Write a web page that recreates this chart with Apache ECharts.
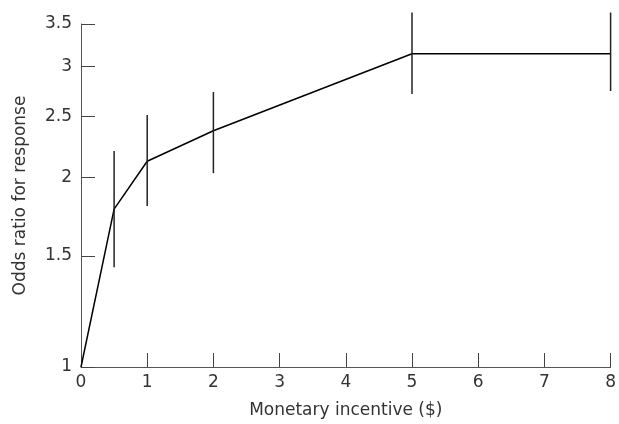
<!DOCTYPE html>
<html>
<head>
<meta charset="utf-8">
<script src="https://cdn.jsdelivr.net/npm/echarts@6/dist/echarts.min.js"></script>
<style>html,body{margin:0;padding:0;background:#fff;}#c{width:619px;height:424px;}</style>
</head>
<body>
<div id="c"></div>
<script>
const incentive = [0, 0.5, 1, 2, 5, 8];
const oddsRatio = [1, 1.78, 2.12, 2.37, 3.14, 3.14];
const lowerCI = [null, 1.44, 1.80, 2.03, 2.71, 2.74];
const upperCI = [null, 2.20, 2.51, 2.73, 3.65, 3.65];
const yTicks = [1, 1.5, 2, 2.5, 3, 3.5];
const xTicks = [0, 1, 2, 3, 4, 5, 6, 7, 8];

const font = 'DejaVu Sans';
const chart = echarts.init(document.getElementById('c'), null, {renderer: 'canvas'});
const lineData = incentive.map((x, i) => [x, oddsRatio[i]]);
const barData = incentive.map((x, i) => [x, lowerCI[i], upperCI[i]]).filter(d => d[1] != null);

chart.setOption({
  animation: false,
  backgroundColor: '#fff',
  grid: {left: 81, right: 4, top: 24, bottom: 57, containLabel: false},
  xAxis: {
    type: 'value', min: 0, max: 8, interval: 1,
    name: 'Monetary incentive ($)', nameLocation: 'middle', nameGap: 35,
    nameTextStyle: {fontFamily: font, fontSize: 17, color: '#333'},
    axisLine: {show: true, lineStyle: {color: '#555', width: 1}},
    axisTick: {show: true, inside: true, length: 14, lineStyle: {color: '#444', width: 1}, customValues: xTicks},
    axisLabel: {fontFamily: font, fontSize: 17, color: '#333', margin: 7, customValues: xTicks},
    splitLine: {show: false}
  },
  yAxis: {
    type: 'log', logBase: 10, min: 1, max: 3.5,
    name: 'Odds ratio for response', nameLocation: 'middle', nameGap: 52, nameRotate: 90,
    nameTextStyle: {fontFamily: font, fontSize: 17, color: '#333'},
    axisLine: {show: true, lineStyle: {color: '#555', width: 1}},
    axisTick: {show: true, inside: true, length: 14, lineStyle: {color: '#444', width: 1}, customValues: yTicks},
    axisLabel: {fontFamily: font, fontSize: 17, color: '#333', margin: 9, customValues: yTicks,
      formatter: v => String(v)},
    splitLine: {show: false}
  },
  series: [
    {
      type: 'line', data: lineData, symbol: 'none',
      lineStyle: {color: '#000', width: 1.5}, z: 3
    },
    {
      type: 'custom', clip: false, data: barData, z: 4,
      encode: {x: 0, y: [1, 2]},
      renderItem: function (params, api) {
        const x = api.value(0);
        const lo = api.coord([x, api.value(1)]);
        const hi = api.coord([x, api.value(2)]);
        return {
          type: 'line',
          shape: {x1: lo[0], y1: lo[1], x2: hi[0], y2: hi[1]},
          style: {stroke: '#222', lineWidth: 1.5}
        };
      }
    }
  ]
});
</script>
</body>
</html>
